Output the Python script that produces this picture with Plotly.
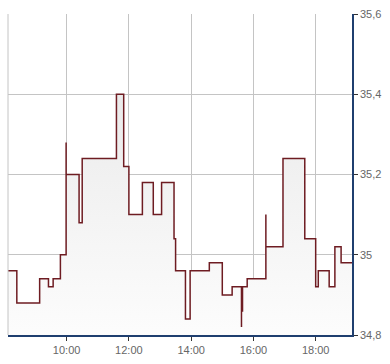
import plotly.graph_objects as go

day = "2024-01-15 "
times = ["08:07", "08:24", "09:08", "09:25", "09:34", "09:48", "09:59", "09:59",
         "10:24", "10:30", "11:36", "11:50", "12:00", "12:26", "12:47", "13:03",
         "13:27", "13:30", "13:49", "13:58", "14:35", "15:00", "15:19", "15:37",
         "15:37", "15:39", "15:48", "16:24", "16:24", "16:57", "17:39", "18:00",
         "18:05", "18:26", "18:37", "18:49", "19:10"]
prices = [34.96, 34.88, 34.94, 34.92, 34.94, 35.00, 35.28, 35.20,
          35.08, 35.24, 35.40, 35.22, 35.10, 35.18, 35.10, 35.18,
          35.04, 34.96, 34.84, 34.96, 34.98, 34.90, 34.92, 34.82,
          34.86, 34.92, 34.94, 35.10, 35.02, 35.24, 35.04, 34.92,
          34.96, 34.92, 35.02, 34.98, 34.98]
y_ticks = [34.8, 35.0, 35.2, 35.4, 35.6]
y_labels = ["34,8", "35", "35,2", "35,4", "35,6"]
x_ticks = ["10:00", "12:00", "14:00", "16:00", "18:00"]

xs = [day + t for t in times]

fig = go.Figure()
fig.add_trace(go.Scatter(
    x=xs, y=prices, mode="lines", line=dict(color="#6e1c22", width=1.5, shape="hv"),
    fill="tozeroy",
    fillgradient=dict(type="vertical", start=34.8, stop=35.4,
                      colorscale=[[0, "#fdfdfd"], [1, "#ebebeb"]]),
    hoverinfo="skip", showlegend=False,
))

grid = "#c4c4c4"
fig.update_layout(
    width=390, height=364,
    margin=dict(l=8, r=38, t=11, b=24),
    paper_bgcolor="white", plot_bgcolor="white",
    font=dict(family="Liberation Sans, Arial", size=11, color="#666666"),
    xaxis=dict(
        type="date",
        range=[day + "08:07", day + "19:10"],
        tickvals=[day + t for t in x_ticks], ticktext=x_ticks,
        showgrid=True, gridcolor=grid, gridwidth=1,
        showline=True, linecolor="#1f3f6f", linewidth=1.5,
        ticks="outside", ticklen=4, tickcolor="#333333",
        zeroline=False,
    ),
    yaxis=dict(
        side="right", range=[34.8, 35.6],
        tickvals=y_ticks, ticktext=y_labels,
        showgrid=True, gridcolor=grid, gridwidth=1,
        showline=True, linecolor="#1f3f6f", linewidth=1.5,
        ticks="outside", ticklen=4, tickcolor="#333333",
        zeroline=False,
    ),
    shapes=[dict(type="line", xref="paper", yref="paper", x0=0, x1=0, y0=0, y1=1,
                 line=dict(color=grid, width=1))],
)

fig.write_html("out.html")
